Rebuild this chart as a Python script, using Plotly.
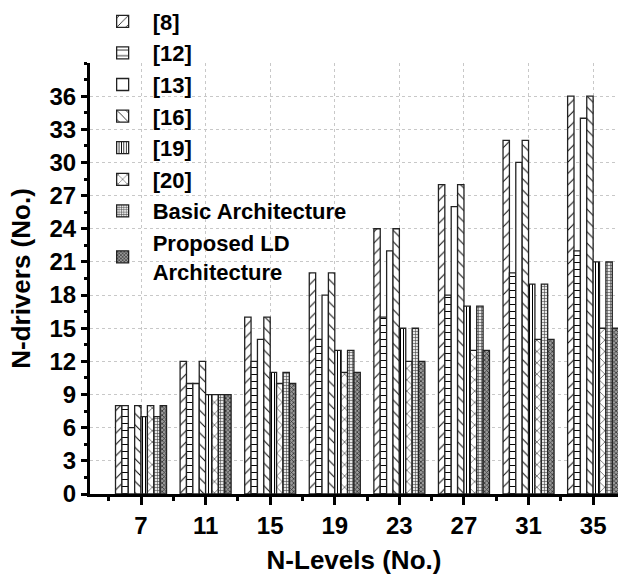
import plotly.graph_objects as go

# Number of output levels (x categories)
levels = [7, 11, 15, 19, 23, 27, 31, 35]

# Number of drivers required by each topology
drivers_ref8 = [8, 12, 16, 20, 24, 28, 32, 36]
drivers_ref12 = [8, 10, 12, 14, 16, 18, 20, 22]
drivers_ref13 = [6, 10, 14, 18, 22, 26, 30, 34]
drivers_ref16 = [8, 12, 16, 20, 24, 28, 32, 36]
drivers_ref19 = [7, 9, 11, 13, 15, 17, 19, 21]
drivers_ref20 = [8, 9, 10, 11, 12, 13, 14, 15]
drivers_basic = [7, 9, 11, 13, 15, 17, 19, 21]
drivers_proposed = [8, 9, 10, 11, 12, 13, 14, 15]

series_names = ["[8]", "[12]", "[13]", "[16]", "[19]", "[20]",
                "Basic Architecture", "Proposed LD<br>Architecture"]
series_values = [drivers_ref8, drivers_ref12, drivers_ref13, drivers_ref16,
                 drivers_ref19, drivers_ref20, drivers_basic, drivers_proposed]

y_ticks = [0, 3, 6, 9, 12, 15, 18, 21, 24, 27, 30, 33, 36]

# Hatch style for each series: (shape, size, solidity, fg, bg)
hatches = [
    ("/", 8, 0.12, "black", "white"),
    ("-", 7, 0.14, "black", "white"),
    ("", 8, 0.10, "black", "white"),
    ("\\", 8, 0.12, "black", "white"),
    ("|", 3, 0.35, "black", "white"),
    ("x", 8, 0.12, "black", "white"),
    ("+", 3, 0.35, "#444444", "#e8e8e8"),
    ("x", 3, 0.45, "#333333", "#9a9a9a"),
]

FONT = "Liberation Sans, Arial, Helvetica, sans-serif"

fig = go.Figure()
for i, (name, vals, h) in enumerate(zip(series_names, series_values, hatches)):
    shape, size, solid, fg, bg = h
    fig.add_trace(go.Bar(
        x=levels,
        y=vals,
        name=name,
        legendgroup=f"g{i}",
        marker=dict(
            color=bg,
            line=dict(color="#222222", width=1.3),
            pattern=dict(shape=shape, size=size, solidity=solid,
                         fgcolor=fg, bgcolor=bg, fillmode="replace"),
        ),
    ))

fig.update_layout(
    width=618,
    height=586,
    margin=dict(l=90, r=0, t=60, b=92),
    paper_bgcolor="white",
    plot_bgcolor="white",
    barmode="group",
    bargap=0.21,
    bargroupgap=0.0,
    font=dict(family=FONT, size=24, color="black", weight="bold"),
    showlegend=True,
    legend=dict(
        x=0.005, xanchor="left",
        y=1.145, yanchor="top",
        bgcolor="rgba(0,0,0,0)",
        font=dict(family=FONT, size=22, color="black", weight="bold"),
        traceorder="grouped",
        tracegroupgap=0,
        itemwidth=50,
        maxheight=600,
    ),
    xaxis=dict(
        range=[3.84, 36.54],
        tickvals=levels,
        ticktext=[str(v) for v in levels],
        showline=True, linecolor="black", linewidth=3,
        ticks="outside", ticklen=8, tickwidth=3, tickcolor="black",
        minor=dict(dtick=4, tick0=5, ticks="outside", ticklen=4,
                   tickwidth=3, tickcolor="black", showgrid=False),
        showgrid=True, gridcolor="#c8c8c8", griddash="dot", gridwidth=1,
        tickfont=dict(family=FONT, size=24, weight="bold"),
        title=dict(text="N-Levels (No.)", standoff=14,
                   font=dict(family=FONT, size=26, weight="bold")),
        zeroline=False,
    ),
    yaxis=dict(
        range=[0, 39],
        tickvals=y_ticks,
        showline=True, linecolor="black", linewidth=3,
        ticks="outside", ticklen=6, tickwidth=3, tickcolor="black",
        minor=dict(dtick=1.5, tick0=0, ticks="outside", ticklen=3,
                   tickwidth=3, tickcolor="black", showgrid=False),
        showgrid=True, gridcolor="#c8c8c8", griddash="dot", gridwidth=1,
        tickfont=dict(family=FONT, size=24, weight="bold"),
        title=dict(text="N-drivers (No.)", standoff=12,
                   font=dict(family=FONT, size=26, weight="bold")),
        zeroline=False,
    ),
)

fig.write_html("out.html")
